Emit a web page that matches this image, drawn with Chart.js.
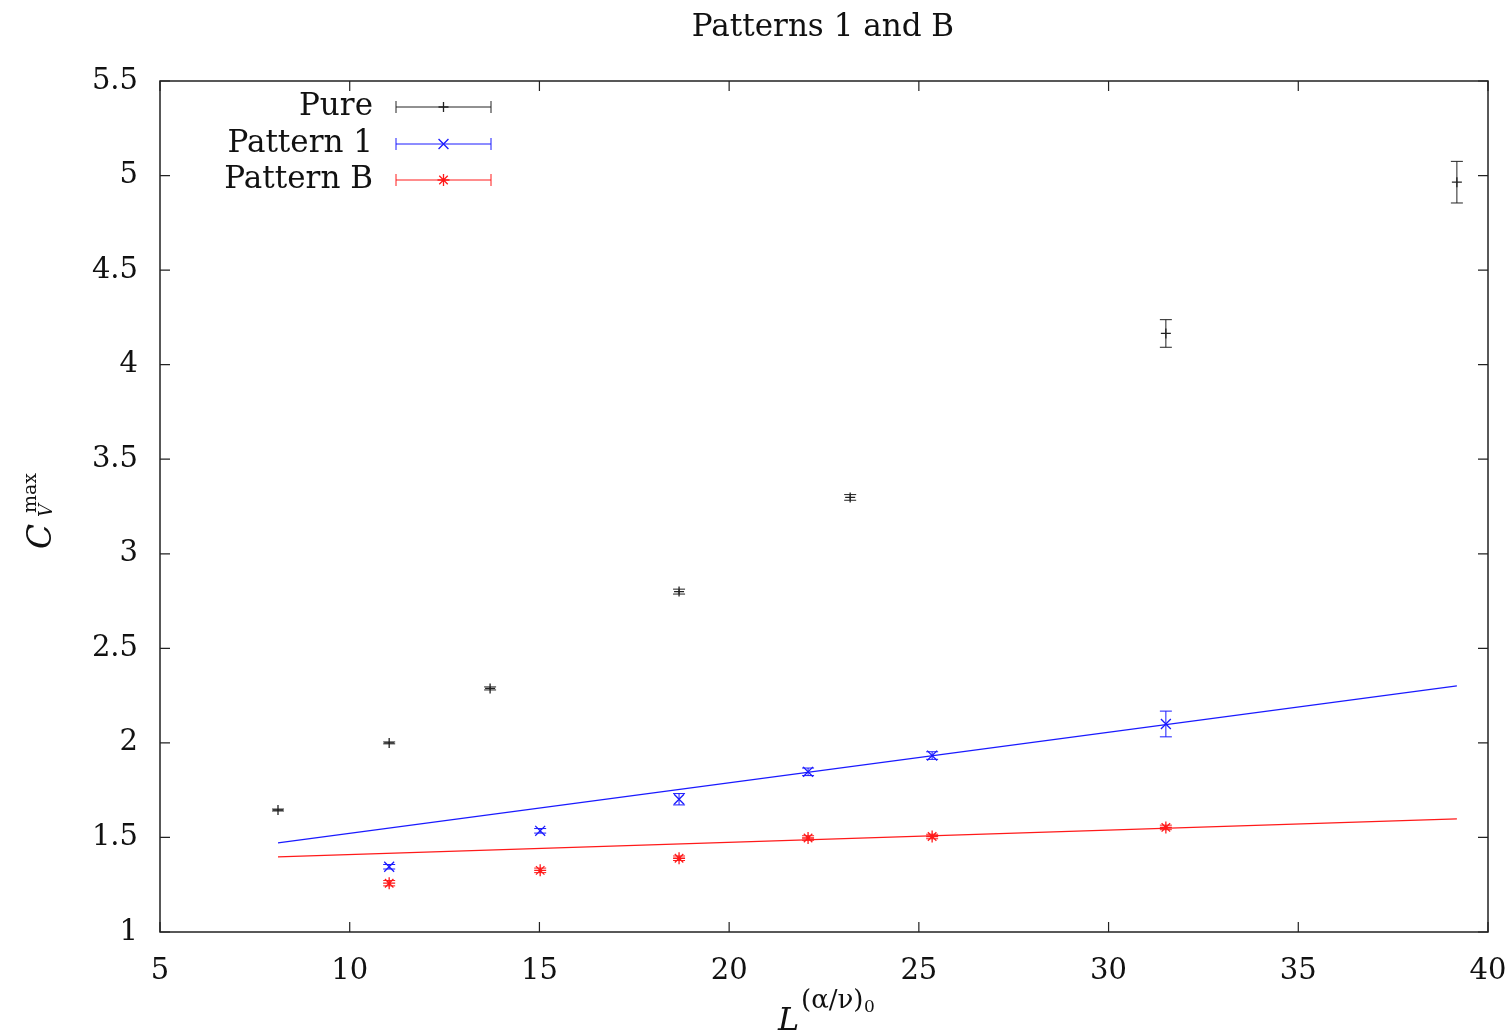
<!DOCTYPE html>
<html>
<head>
<meta charset="utf-8">
<title>Patterns 1 and B</title>
<script src="https://cdn.jsdelivr.net/npm/chart.js@4.4.1/dist/chart.umd.min.js"></script>
<style>
  html, body { margin: 0; padding: 0; background: #fff; }
  #wrap { width: 1509px; height: 1033px; position: relative; }
</style>
</head>
<body>
<div id="wrap"><canvas id="chart"></canvas></div>
<script>
// L^(alpha/nu)_0 positions of the measured lattice sizes
const xPure = [8.11, 11.04, 13.70, 18.68, 23.19, 31.51, 39.18];
const xPatt = [11.04, 15.02, 18.68, 22.08, 25.35, 31.51];

// C_V^max values and their errors
const pureY = [1.645, 2.0, 2.288, 2.80, 3.298, 4.165, 4.965];
const pureErr = [0.005, 0.005, 0.008, 0.013, 0.015, 0.073, 0.11];
const patt1Y = [1.345, 1.535, 1.702, 1.847, 1.933, 2.10];
const patt1Err = [0.012, 0.012, 0.03, 0.02, 0.02, 0.068];
const pattBY = [1.258, 1.326, 1.39, 1.497, 1.505, 1.553];
const pattBErr = [0.014, 0.012, 0.012, 0.012, 0.012, 0.012];

// straight-line fits drawn over the pure range
const fitX = [8.11, 39.18];
const fit1Y = [1.471, 2.301];
const fitBY = [1.397, 1.598];

const xTicks = [5, 10, 15, 20, 25, 30, 35, 40];
const yTicks = [1, 1.5, 2, 2.5, 3, 3.5, 4, 4.5, 5, 5.5];

const SERIF = "'DejaVu Serif', 'Liberation Serif', serif";
const BLACK = "#222";
const BLUE = "#1a1aff";
const RED = "#ff1a1a";

const pts = (xs, ys) => xs.map((x, i) => ({ x: x, y: ys[i] }));

const series = [
  { label: "Pure", xs: xPure, ys: pureY, err: pureErr, color: BLACK, style: "cross", r: 5 },
  { label: "Pattern 1", xs: xPatt, ys: patt1Y, err: patt1Err, color: BLUE, style: "crossRot", r: 7 },
  { label: "Pattern B", xs: xPatt, ys: pattBY, err: pattBErr, color: RED, style: "star", r: 6 }
];

const datasets = series.map(s => ({
  label: s.label,
  data: pts(s.xs, s.ys),
  errors: s.err,
  showLine: false,
  pointStyle: s.style,
  pointRadius: s.r,
  pointBorderWidth: 1.3,
  borderColor: s.color,
  backgroundColor: s.color
}));
datasets.push(
  { label: "fit1", data: pts(fitX, fit1Y), showLine: true, borderColor: BLUE, borderWidth: 1.2, pointRadius: 0 },
  { label: "fitB", data: pts(fitX, fitBY), showLine: true, borderColor: RED, borderWidth: 1.2, pointRadius: 0 }
);

function marker(ctx, style, x, y, r) {
  ctx.beginPath();
  if (style === "cross" || style === "star") {
    ctx.moveTo(x - r, y); ctx.lineTo(x + r, y);
    ctx.moveTo(x, y - r); ctx.lineTo(x, y + r);
  }
  if (style === "crossRot" || style === "star") {
    const d = r * 0.7071;
    ctx.moveTo(x - d, y - d); ctx.lineTo(x + d, y + d);
    ctx.moveTo(x - d, y + d); ctx.lineTo(x + d, y - d);
  }
  ctx.stroke();
}

// error bars, frame with inward ticks, legend, title and axis labels
const decor = {
  id: "decor",
  afterDatasetsDraw(chart) {
    const ctx = chart.ctx, xs = chart.scales.x, ys = chart.scales.y;
    ctx.save();
    ctx.lineWidth = 1;
    chart.data.datasets.forEach(ds => {
      if (!ds.errors) return;
      ctx.strokeStyle = ds.borderColor;
      ds.data.forEach((p, i) => {
        const px = xs.getPixelForValue(p.x);
        const top = ys.getPixelForValue(p.y + ds.errors[i]);
        const bot = ys.getPixelForValue(p.y - ds.errors[i]);
        ctx.beginPath();
        ctx.moveTo(px, top); ctx.lineTo(px, bot);
        ctx.moveTo(px - 6, top); ctx.lineTo(px + 6, top);
        ctx.moveTo(px - 6, bot); ctx.lineTo(px + 6, bot);
        ctx.stroke();
      });
    });
    ctx.restore();
  },
  afterDraw(chart) {
    const ctx = chart.ctx, a = chart.chartArea;
    const xs = chart.scales.x, ys = chart.scales.y;
    ctx.save();
    ctx.strokeStyle = "#222";
    ctx.lineWidth = 1.5;
    ctx.strokeRect(a.left, a.top, a.right - a.left, a.bottom - a.top);
    ctx.lineWidth = 1.2;
    ctx.beginPath();
    xTicks.forEach(v => {
      const px = xs.getPixelForValue(v);
      ctx.moveTo(px, a.bottom); ctx.lineTo(px, a.bottom - 10);
      ctx.moveTo(px, a.top); ctx.lineTo(px, a.top + 10);
    });
    yTicks.forEach(v => {
      const py = ys.getPixelForValue(v);
      ctx.moveTo(a.left, py); ctx.lineTo(a.left + 10, py);
      ctx.moveTo(a.right, py); ctx.lineTo(a.right - 10, py);
    });
    ctx.stroke();

    // legend
    ctx.font = "31px " + SERIF;
    ctx.textAlign = "right";
    ctx.textBaseline = "middle";
    const rows = [107, 144, 180];
    series.forEach((s, i) => {
      const y = rows[i];
      ctx.fillStyle = "#111";
      ctx.fillText(s.label, 373, y);
      ctx.strokeStyle = s.color;
      ctx.lineWidth = 1;
      ctx.beginPath();
      ctx.moveTo(396, y); ctx.lineTo(491, y);
      ctx.moveTo(396, y - 6); ctx.lineTo(396, y + 6);
      ctx.moveTo(491, y - 6); ctx.lineTo(491, y + 6);
      ctx.stroke();
      ctx.lineWidth = 1.3;
      marker(ctx, s.style, 443.5, y, s.r);
    });

    // title
    ctx.fillStyle = "#111";
    ctx.textAlign = "center";
    ctx.textBaseline = "alphabetic";
    ctx.font = "31px " + SERIF;
    ctx.fillText("Patterns 1 and B", 823, 36);

    // x axis label: L^{(alpha/nu)_0}
    ctx.textAlign = "left";
    ctx.font = "italic 32px " + SERIF;
    ctx.fillText("L", 778, 1030);
    ctx.font = "26px " + SERIF;
    ctx.fillText("(α/ν)", 801, 1008);
    ctx.font = "17px " + SERIF;
    ctx.fillText("0", 864, 1012);

    // y axis label: C_V^max, rotated
    ctx.translate(51, 515);
    ctx.rotate(-Math.PI / 2);
    ctx.font = "italic 33px " + SERIF;
    ctx.fillText("C", -34, 0);
    ctx.font = "italic 18px " + SERIF;
    ctx.fillText("V", -2, 1);
    ctx.font = "19px " + SERIF;
    ctx.fillText("max", 2, -15);
    ctx.restore();
  }
};

new Chart(document.getElementById("chart"), {
  type: "scatter",
  data: { datasets: datasets },
  options: {
    responsive: true,
    maintainAspectRatio: false,
    animation: false,
    layout: { padding: { top: 81, right: 21, left: 0, bottom: 0 } },
    plugins: { legend: { display: false }, tooltip: { enabled: false } },
    scales: {
      x: {
        type: "linear",
        min: 5, max: 40,
        afterFit: s => { s.height = 101; s.paddingLeft = 0; s.paddingRight = 0; },
        afterBuildTicks: s => { s.ticks = xTicks.map(v => ({ value: v })); },
        grid: { display: false },
        border: { display: false },
        ticks: { color: "#111", font: { family: SERIF, size: 29 }, padding: 14, maxRotation: 0,
                 callback: v => String(v) }
      },
      y: {
        type: "linear",
        min: 1, max: 5.5,
        afterFit: s => { s.width = 160; s.paddingTop = 0; s.paddingBottom = 0; },
        afterBuildTicks: s => { s.ticks = yTicks.map(v => ({ value: v })); },
        grid: { display: false },
        border: { display: false },
        ticks: { color: "#111", font: { family: SERIF, size: 29 }, padding: 14,
                 callback: v => String(v) }
      }
    }
  },
  plugins: [decor]
});
</script>
</body>
</html>
